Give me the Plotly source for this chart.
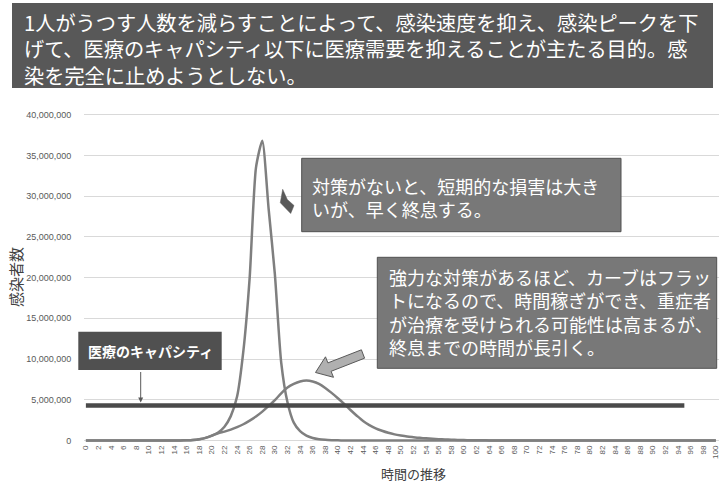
import plotly.graph_objects as go

# ---------------- data ----------------
days = list(range(101))
tick_days = list(range(0, 101, 2))
tick_labels = [str(d) for d in tick_days]

# infections without measures (sharp peak)
no_measures = [
    0, 0, 0, 0, 0, 0, 0, 0, 0, 0,
    0, 0, 0, 5000, 10000, 20000, 40000, 80000, 170000, 330000,
    600000, 1000000, 1700000, 3000000, 5400000, 11000000, 20000000, 33500000, 36800000, 28500000,
    20400000, 9600000, 4700000, 2200000, 1150000, 600000, 320000, 170000, 90000, 50000,
    25000, 12000, 6000, 3000, 0, 0, 0, 0, 0, 0,
    0, 0, 0, 0, 0, 0, 0, 0, 0, 0,
    0, 0, 0, 0, 0, 0, 0, 0, 0, 0,
    0, 0, 0, 0, 0, 0, 0, 0, 0, 0,
    0, 0, 0, 0, 0, 0, 0, 0, 0, 0,
    0, 0, 0, 0, 0, 0, 0, 0, 0, 0,
    0,
]

# infections with strong measures (flattened curve)
strong_measures = [
    0, 0, 0, 0, 0, 0, 0, 0, 0, 0,
    0, 0, 0, 5000, 10000, 20000, 40000, 80000, 170000, 330000,
    600000, 900000, 1100000, 1350000, 1650000, 2000000, 2450000, 2950000, 3550000, 4250000,
    4950000, 5800000, 6500000, 6950000, 7250000, 7360000, 7250000, 6950000, 6450000, 5850000,
    5200000, 4500000, 3750000, 3050000, 2400000, 1900000, 1500000, 1200000, 950000, 760000,
    620000, 500000, 410000, 330000, 270000, 210000, 165000, 130000, 100000, 78000,
    60000, 45000, 35000, 27000, 20000, 15000, 11000, 8000, 6000, 4000,
    3000, 0, 0, 0, 0, 0, 0, 0, 0, 0,
    0, 0, 0, 0, 0, 0, 0, 0, 0, 0,
    0, 0, 0, 0, 0, 0, 0, 0, 0, 0,
    0,
]

capacity_days = [0, 95]
capacity_values = [4300000, 4300000]

y_ticks = [0, 5000000, 10000000, 15000000, 20000000, 25000000, 30000000, 35000000, 40000000]

title_text = ("1人がうつす人数を減らすことによって、感染速度を抑え、感染ピークを下<br>"
              "げて、医療のキャパシティ以下に医療需要を抑えることが主たる目的。感<br>"
              "染を完全に止めようとしない。")
note1_text = "対策がないと、短期的な損害は大き<br>いが、早く終息する。"
note2_text = ("強力な対策があるほど、カーブはフラッ<br>トになるので、時間稼ぎができ、重症者<br>"
              "が治療を受けられる可能性は高まるが、<br>終息までの時間が長引く。")
capacity_label = "医療のキャパシティ"
x_title = "時間の推移"
y_title = "感染者数"

# ---------------- layout geometry ----------------
WIDTH, HEIGHT = 719, 485
L, T, W, H = 84, 113, 635, 330
JP = "Noto Sans CJK JP"


def px(x):
    return (x - L) / W


def py(y):
    return (T + H - y) / H


def path(points):
    return "M " + " L ".join(f"{px(a):.5f},{py(b):.5f}" for a, b in points) + " Z"


fig = go.Figure()
fig.add_trace(go.Scatter(x=days, y=no_measures, mode="lines",
                         line=dict(color="#7f7f7f", width=2.5, shape="spline", smoothing=0.6),
                         hoverinfo="skip", showlegend=False))
fig.add_trace(go.Scatter(x=days, y=strong_measures, mode="lines",
                         line=dict(color="#7f7f7f", width=2.5, shape="spline", smoothing=0.8),
                         hoverinfo="skip", showlegend=False))
fig.add_trace(go.Scatter(x=capacity_days, y=capacity_values, mode="lines",
                         line=dict(color="#4a4a4a", width=4.5),
                         hoverinfo="skip", showlegend=False))

shapes = [
    # title box
    dict(type="rect", xref="paper", yref="paper", x0=px(12), x1=px(713), y0=py(88), y1=py(3),
         fillcolor="#585858", line=dict(width=0), layer="above"),
    # note 1 box
    dict(type="rect", xref="paper", yref="paper", x0=px(301.7), x1=px(621), y0=py(231.7), y1=py(158.3),
         fillcolor="#787878", line=dict(color="#505050", width=1), layer="above"),
    # note 2 box
    dict(type="rect", xref="paper", yref="paper", x0=px(377.3), x1=px(716.7), y0=py(368.3), y1=py(257.3),
         fillcolor="#787878", line=dict(color="#505050", width=1), layer="above"),
    # capacity label box
    dict(type="rect", xref="paper", yref="paper", x0=px(78.3), x1=px(221.7), y0=py(370), y1=py(331.7),
         fillcolor="#505050", line=dict(width=0), layer="above"),
    # big block arrow
    dict(type="path", xref="paper", yref="paper", layer="above",
         path=path([(315.5, 372.5), (325.5, 356.8), (327.9, 362.9), (361.4, 349.8),
                    (364.6, 358.2), (331.1, 371.3), (333.5, 377.3)]),
         fillcolor="#b0b0b0", line=dict(color="#595959", width=1)),
    # small arrow near note 1
    dict(type="path", xref="paper", yref="paper", layer="above",
         path=path([(282.7, 189.3), (287.3, 199.5), (294, 205.5), (290.7, 213.5), (280.3, 202.7)]),
         fillcolor="#595959", line=dict(color="#595959", width=0.5)),
]

annotations = [
    dict(xref="paper", yref="paper", x=px(22), y=py(49), xanchor="left", yanchor="middle",
         text=title_text, showarrow=False, align="left",
         font=dict(family=JP, size=20.2, color="#ffffff")),
    dict(xref="paper", yref="paper", x=px(310), y=py(197.5), xanchor="left", yanchor="middle",
         text=note1_text, showarrow=False, align="left",
         font=dict(family=JP, size=18, color="#ffffff")),
    dict(xref="paper", yref="paper", x=px(386.7), y=py(312), xanchor="left", yanchor="middle",
         text=note2_text, showarrow=False, align="left",
         font=dict(family=JP, size=18, color="#ffffff")),
    dict(xref="paper", yref="paper", x=px(150), y=py(351), xanchor="center", yanchor="middle",
         text="<b>" + capacity_label + "</b>", showarrow=False,
         font=dict(family=JP, size=14, color="#ffffff")),
    dict(xref="paper", yref="paper", x=px(140.7), y=py(402.5), text="", showarrow=True,
         ax=0, ay=-32, arrowhead=2, arrowsize=1, arrowwidth=1, arrowcolor="#595959", standoff=0),
    dict(xref="paper", yref="paper", x=px(15), y=py(277), xanchor="center", yanchor="middle",
         text=y_title, showarrow=False, textangle=-90,
         font=dict(family=JP, size=15, color="#404040")),
    dict(xref="paper", yref="paper", x=px(413), y=py(473), xanchor="center", yanchor="middle",
         text=x_title, showarrow=False,
         font=dict(family=JP, size=13, color="#404040")),
]

fig.update_layout(
    width=WIDTH, height=HEIGHT,
    margin=dict(l=L, r=WIDTH - L - W, t=T, b=HEIGHT - T - H, autoexpand=False),
    paper_bgcolor="#ffffff", plot_bgcolor="#ffffff",
    shapes=shapes, annotations=annotations, showlegend=False,
    xaxis=dict(range=[-0.3, 100.5], tickvals=tick_days, ticktext=tick_labels, tickangle=-90,
               tickfont=dict(family="Liberation Sans", size=8, color="#595959"),
               ticklabeloverflow="allow",
               showgrid=False, zeroline=False, showline=False, ticks=""),
    yaxis=dict(range=[-300000, 40200000], tickvals=y_ticks, tickformat=",",
               tickfont=dict(family="Liberation Sans", size=9, color="#595959"),
               showgrid=True, gridcolor="#d9d9d9", gridwidth=1,
               zeroline=True, zerolinecolor="#d9d9d9", zerolinewidth=1,
               ticks="outside", ticklen=10, tickcolor="rgba(0,0,0,0)", showline=False),
)

fig.write_html("out.html", config={"displayModeBar": False},
               post_script="document.body.style.margin='0';document.body.style.overflow='hidden';")
